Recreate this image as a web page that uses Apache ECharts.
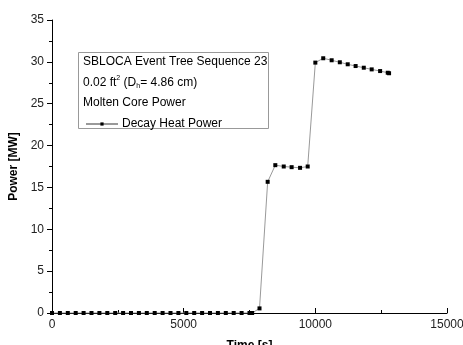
<!DOCTYPE html>
<html>
<head>
<meta charset="utf-8">
<script src="https://cdn.jsdelivr.net/npm/echarts@6/dist/echarts.min.js"></script>
<style>
html, body { margin: 0; padding: 0; background: #fff; }
#main { width: 463px; height: 345px; }
</style>
</head>
<body>
<div id="main"></div>
<script>
// time [s]
var times = [0, 300, 600, 900, 1200, 1500, 1800, 2100, 2400, 2700, 3000, 3300, 3600, 3900,
    4200, 4500, 4800, 5100, 5400, 5700, 6000, 6300, 6600, 6900, 7200, 7500, 7600,
    7880, 8190, 8480, 8800, 9100, 9420, 9710, 10000, 10300, 10620, 10930, 11230,
    11530, 11840, 12140, 12460, 12750, 12800];
// power [MW]
var power = [0, 0, 0, 0, 0, 0, 0, 0, 0, 0, 0, 0, 0, 0,
    0, 0, 0, 0, 0, 0, 0, 0, 0, 0, 0, 0, 0,
    0.55, 15.67, 17.66, 17.5, 17.42, 17.34, 17.5, 29.91, 30.43, 30.19, 29.95, 29.71,
    29.5, 29.3, 29.1, 28.9, 28.7, 28.64];
var xTicks = [0, 5000, 10000, 15000];
var yTicks = [0, 5, 10, 15, 20, 25, 30, 35];

var font = 'Liberation Sans, Arial, sans-serif';
var chart = echarts.init(document.getElementById('main'));

var option = {
    animation: false,
    grid: { left: 52, right: 16, top: 20, bottom: 32, outerBoundsMode: 'none', containLabel: false },
    xAxis: {
        type: 'value',
        min: xTicks[0], max: xTicks[xTicks.length - 1], interval: 5000,
        name: 'Time [s]', nameLocation: 'middle', nameGap: 27,
        nameTextStyle: { fontFamily: font, fontSize: 12, fontWeight: 'bold', color: '#000' },
        axisLine: { lineStyle: { color: '#000', width: 1 } },
        axisTick: { inside: true, length: 5, lineStyle: { color: '#000' } },
        minorTick: { show: true, splitNumber: 2, length: 3, lineStyle: { color: '#000' } },
        axisLabel: { fontFamily: font, fontSize: 12, color: '#222', margin: 6,
            formatter: function (v) { return String(v); } },
        splitLine: { show: false }
    },
    yAxis: {
        type: 'value',
        min: yTicks[0], max: yTicks[yTicks.length - 1], interval: 5,
        name: 'Power [MW]', nameLocation: 'middle', nameGap: 27, nameRotate: 90,
        nameTextStyle: { fontFamily: font, fontSize: 12, fontWeight: 'bold', color: '#000' },
        axisLine: { show: true, lineStyle: { color: '#000', width: 1 } },
        axisTick: { show: true, length: 5, lineStyle: { color: '#000' } },
        minorTick: { show: true, splitNumber: 2, length: 3, lineStyle: { color: '#000' } },
        axisLabel: { fontFamily: font, fontSize: 12, color: '#222', margin: 8 },
        splitLine: { show: false }
    },
    legend: {
        left: 80, top: 113,
        itemWidth: 32, itemHeight: 4, itemGap: 4,
        textStyle: { fontFamily: font, fontSize: 12, color: '#000', padding: [0, 0, 0, -1] },
        data: ['Decay Heat Power']
    },
    graphic: [
        {
            type: 'rect', left: 78, top: 52, z: 0,
            shape: { width: 190, height: 76 },
            style: { fill: '#fff', stroke: '#999', lineWidth: 1 }
        },
        {
            type: 'text', left: 83, top: 56, z: 10,
            style: { text: 'SBLOCA Event Tree Sequence 23', font: '12px ' + font, fill: '#000' }
        },
        {
            type: 'text', left: 83, top: 75, z: 10,
            style: {
                text: '0.02 ft{sup|2} (D{sub|h}= 4.86 cm)',
                font: '12px ' + font, fill: '#000',
                rich: {
                    sup: { fontSize: 7, verticalAlign: 'top', padding: [0, 0, 8, 0], fontFamily: font },
                    sub: { fontSize: 7, verticalAlign: 'bottom', padding: [8, 0, 0, 0], fontFamily: font }
                }
            }
        },
        {
            type: 'text', left: 83, top: 97, z: 10,
            style: { text: 'Molten Core Power', font: '12px ' + font, fill: '#000' }
        }
    ],
    series: [{
        name: 'Decay Heat Power',
        type: 'line',
        data: times.map(function (t, i) { return [t, power[i]]; }),
        symbol: 'rect',
        symbolSize: 4,
        lineStyle: { color: '#999', width: 1 },
        itemStyle: { color: '#000' }
    }]
};
chart.setOption(option);
</script>
</body>
</html>
